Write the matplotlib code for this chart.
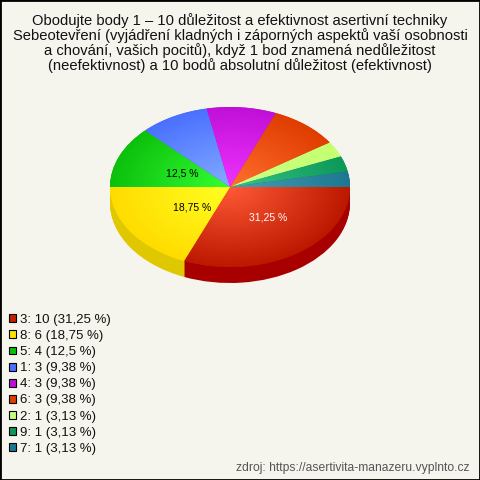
import numpy as np
import matplotlib
matplotlib.use('Agg')
import matplotlib.pyplot as plt
from matplotlib.patches import Patch, Rectangle

plt.rcParams['font.family'] = ['Liberation Sans', 'DejaVu Sans']

title = ('Obodujte body 1 – 10 důležitost a efektivnost asertivní techniky\n'
         'Sebeotevření (vyjádření kladných i záporných aspektů vaší osobnosti\n'
         'a chování, vašich pocitů), když 1 bod znamená nedůležitost\n'
         '(neefektivnost) a 10 bodů absolutní důležitost (efektivnost)')
categories = ['3', '8', '5', '1', '4', '6', '2', '9', '7']
values = [10, 6, 4, 3, 3, 3, 1, 1, 1]
percents = ['31,25', '18,75', '12,5', '9,38', '9,38', '9,38', '3,13', '3,13', '3,13']
footer = 'zdroj: https://asertivita-manazeru.vyplnto.cz'

inner_colors = ['#ff5a36', '#ffff22', '#33ff33', '#84acff', '#f033ff', '#ff7030', '#ccff88', '#38c488', '#4c9cb8']
outer_colors = ['#bb1800', '#ffdc00', '#0cc00c', '#4a70ff', '#c010d8', '#e03c00', '#c4ff70', '#0c9858', '#1c7890']
side_colors = ['#a80000', '#e0c800', '#0a9a0a', '#3a58cc', '#9a0cac', '#b43000', '#9ccc5a', '#0a7a46', '#166074']
legend_colors = ['#c42000', '#ffe000', '#0cc00c', '#4a70ff', '#c010d8', '#e03c00', '#c8ff80', '#0c9858', '#1c7890']

W = 480
BG = '#f5f5ee'
fig = plt.figure(figsize=(4.8, 4.8), dpi=100, facecolor=BG)

# black frame round the whole picture
fig.add_artist(Rectangle((0, 0), 1, 1, transform=fig.transFigure, fill=False, edgecolor='black', linewidth=2))

fig.text(0.5, 1 - 13 / W, title, ha='center', va='top', fontsize=10.6, color='#111111', linespacing=1.0)

# pie is an ellipse: 240 x 160 px box, axis limits -1..1 stretch the circle
ax = fig.add_axes([110 / W, 1 - 267 / W, 240 / W, 160 / W])

depth = 16 / 80
for step in np.linspace(depth, 0.01, 17):
    ax.pie(values, colors=side_colors, startangle=0, counterclock=False, radius=1,
           center=(0, -step), wedgeprops={'linewidth': 0, 'clip_on': False})

wedges, _ = ax.pie(values, colors=legend_colors, startangle=0, counterclock=False, radius=1,
                   center=(0, 0), wedgeprops={'linewidth': 0, 'clip_on': False})

# radial gradient in each wedge
xx, yy = np.meshgrid(np.linspace(-1, 1, 400), np.linspace(-1, 1, 400))
rr = np.clip(np.hypot(xx, yy), 0, 1)
for wedge, c0, c1 in zip(wedges, inner_colors, outer_colors):
    a = np.array(matplotlib.colors.to_rgb(c0))
    b = np.array(matplotlib.colors.to_rgb(c1))
    img = a[None, None, :] + (b - a)[None, None, :] * rr[:, :, None]
    im = ax.imshow(img, extent=(-1, 1, -1, 1), origin='lower', aspect='auto', zorder=3, interpolation='bilinear')
    im.set_clip_path(wedge)
ax.set_aspect('auto')
ax.set_xlim(-1, 1)
ax.set_ylim(-1, 1)

# percentage labels for the three biggest slices, angle shift because they are not on the slice middle
label_dist = [0.50, 0.41, 0.43]
label_shift = [5.5, 6, 0]
label_cols = ['white', 'black', 'black']
edges = np.cumsum([0] + values) / sum(values) * 360
for i in range(3):
    mid = np.radians(-(edges[i] + edges[i + 1]) / 2 + label_shift[i])
    ax.text(label_dist[i] * np.cos(mid), label_dist[i] * np.sin(mid), percents[i] + ' %',
            ha='center', va='center', fontsize=7.5, color=label_cols[i], zorder=5)

handles = [Patch(facecolor=c, edgecolor='black', linewidth=0.8) for c in legend_colors]
labels = [f'{c}: {v} ({p} %)' for c, v, p in zip(categories, values, percents)]
fig.legend(handles, labels, loc='upper left', bbox_to_anchor=(9 / W, 1 - 314 / W), frameon=False,
           fontsize=9.5, handlelength=0.55, handleheight=0.55, handletextpad=0.3, labelspacing=0.31,
           borderpad=0, borderaxespad=0, labelcolor='#111111')

fig.text(470 / W, 1 - 468 / W, footer, ha='right', va='center', fontsize=8.7, color='#555555')

plt.savefig('out.png', dpi=100, facecolor=BG)
